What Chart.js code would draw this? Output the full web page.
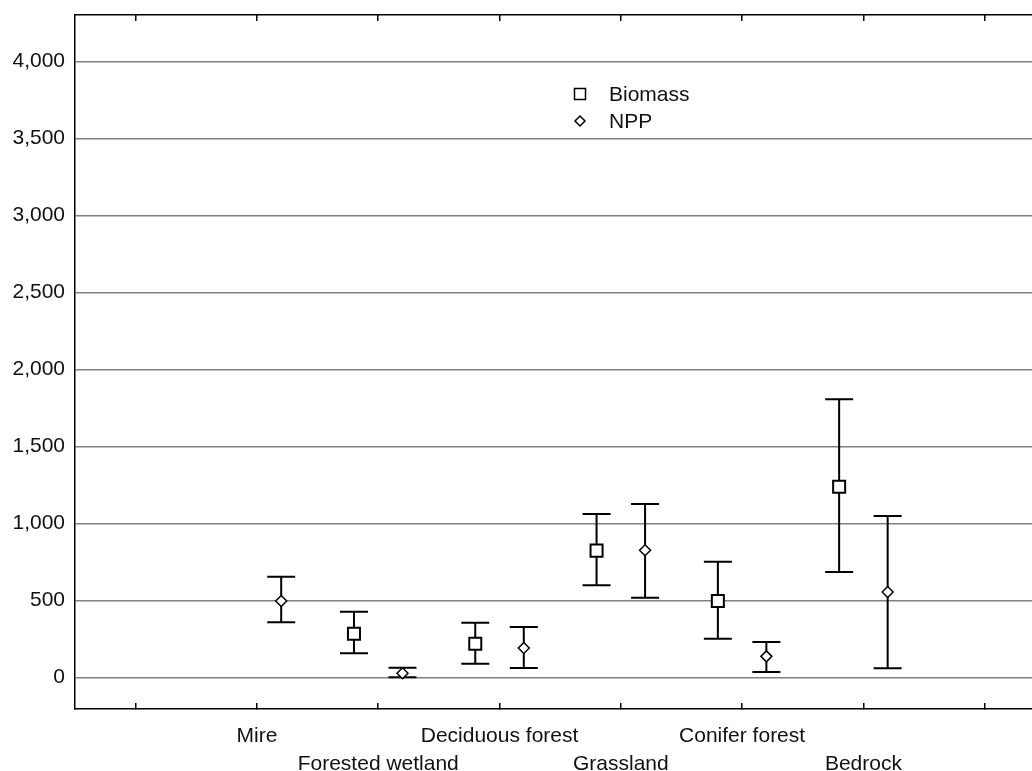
<!DOCTYPE html>
<html>
<head>
<meta charset="utf-8">
<script src="https://cdn.jsdelivr.net/npm/chart.js@4/dist/chart.umd.min.js"></script>
<style>
  html, body { margin: 0; padding: 0; background: #fff; }
  #wrap { width: 1032px; height: 771px; }
</style>
</head>
<body>
<div id="wrap"><canvas id="moneyCanvas"></canvas></div>
<script>
"use strict"

// categories, one per tick (index 1..6)
const categories = ['Mire', 'Forested wetland', 'Deciduous forest', 'Grassland', 'Conifer forest', 'Bedrock'];

// Biomass: mean and error bar ends (Mire has none)
const biomassMean = [null, 283, 218, 823, 496, 1238];
const biomassLow  = [null, 156, 88, 598, 251, 684];
const biomassHigh = [null, 426, 355, 1061, 751, 1806];

// NPP: mean and error bar ends
const nppMean = [496, 26, 190, 825, 136, 554];
const nppLow  = [357, 0, 60, 517, 34, 58];
const nppHigh = [654, 62, 327, 1126, 229, 1048];

// tick values
const yTicks = [0, 500, 1000, 1500, 2000, 2500, 3000, 3500, 4000];
const xTicks = [0, 1, 2, 3, 4, 5, 6, 7];

const FONT = "'Liberation Sans', Arial, Helvetica, sans-serif";
const shift = 0.2;


//Build scatter points for one series
function MakePoints(means, lows, highs, offset) {
    const pts = [];
    for (let i = 0; i < categories.length; i++) {
        if (means[i] == null) continue;
        pts.push({ x: i + 1 + offset, y: means[i], lo: lows[i], hi: highs[i] });
    }
    return pts;
}

//No extra room around the plot
function NoPad(s) {
    s.paddingTop = 0;
    s.paddingBottom = 0;
    s.paddingLeft = 0;
    s.paddingRight = 0;
}


//Error bars, drawn under the markers
const errorBars = {
    id: 'errorBars',
    beforeDatasetsDraw(chart) {
        const ctx = chart.ctx;
        const xs = chart.scales.x;
        const ys = chart.scales.y;
        ctx.save();
        ctx.strokeStyle = '#000';
        ctx.lineWidth = 2;
        chart.data.datasets.forEach(ds => {
            ds.data.forEach(p => {
                const px = xs.getPixelForValue(p.x);
                const yl = ys.getPixelForValue(p.lo);
                const yh = ys.getPixelForValue(p.hi);
                ctx.beginPath();
                ctx.moveTo(px, yl);
                ctx.lineTo(px, yh);
                ctx.moveTo(px - 14, yl);
                ctx.lineTo(px + 14, yl);
                ctx.moveTo(px - 14, yh);
                ctx.lineTo(px + 14, yh);
                ctx.stroke();
            });
        });
        ctx.restore();
    }
};


//Legend inside the plot
const innerLegend = {
    id: 'innerLegend',
    afterDraw(chart) {
        const ctx = chart.ctx;
        const a = chart.chartArea;
        const lx = a.left + 505;
        const ly = a.top + 79;
        ctx.save();
        ctx.strokeStyle = '#000';
        ctx.fillStyle = '#fff';
        ctx.lineWidth = 1.5;
        ctx.beginPath();
        ctx.rect(lx - 5.5, ly - 5.5, 11, 11);
        ctx.fill();
        ctx.stroke();
        ctx.beginPath();
        ctx.moveTo(lx, ly + 27 - 5);
        ctx.lineTo(lx + 5, ly + 27);
        ctx.lineTo(lx, ly + 27 + 5);
        ctx.lineTo(lx - 5, ly + 27);
        ctx.closePath();
        ctx.fill();
        ctx.stroke();
        ctx.fillStyle = '#111';
        ctx.font = '21px ' + FONT;
        ctx.textBaseline = 'middle';
        ctx.fillText('Biomass', lx + 29, ly + 1);
        ctx.fillText('NPP', lx + 29, ly + 28);
        ctx.restore();
    }
};


const config = {
    type: 'scatter',
    data: {
        datasets: [
            {
                label: 'Biomass',
                data: MakePoints(biomassMean, biomassLow, biomassHigh, -shift),
                pointStyle: 'rect',
                pointRadius: 8.5,
                pointHoverRadius: 8.5,
                backgroundColor: '#fff',
                borderColor: '#000',
                borderWidth: 2
            },
            {
                label: 'NPP',
                data: MakePoints(nppMean, nppLow, nppHigh, shift),
                pointStyle: 'rectRot',
                pointRadius: 5.5,
                pointHoverRadius: 5.5,
                backgroundColor: '#fff',
                borderColor: '#000',
                borderWidth: 1.5
            }
        ]
    },
    options: {
        responsive: true,
        maintainAspectRatio: false,
        animation: false,
        layout: { padding: 0, autoPadding: false },
        plugins: {
            legend: { display: false },
            tooltip: { enabled: false }
        },
        scales: {
            x: {
                type: 'linear',
                position: 'bottom',
                min: -0.5,
                max: 7.39,
                afterBuildTicks: s => { s.ticks = xTicks.map(v => ({ value: v })); },
                afterFit: s => { s.height = 62; NoPad(s); },
                grid: { drawOnChartArea: false, tickLength: -6, color: '#000', lineWidth: 1.5 },
                border: { color: '#000', width: 1.5 },
                ticks: {
                    autoSkip: false,
                    maxRotation: 0,
                    minRotation: 0,
                    padding: 20,
                    color: '#111',
                    font: { family: FONT, size: 21, lineHeight: 1.3 },
                    callback: v => {
                        const name = categories[v - 1];
                        if (name == null) return '';
                        return (v % 2 == 1) ? [name] : ['', name];
                    }
                }
            },
            x2: {
                type: 'linear',
                position: 'top',
                min: -0.5,
                max: 7.39,
                afterBuildTicks: s => { s.ticks = xTicks.map(v => ({ value: v })); },
                afterFit: s => { s.height = 15; NoPad(s); },
                grid: { drawOnChartArea: false, tickLength: -6, color: '#000', lineWidth: 1.5 },
                border: { color: '#000', width: 1.5 },
                ticks: { display: false }
            },
            y: {
                min: -206,
                max: 4303,
                afterBuildTicks: s => { s.ticks = yTicks.map(v => ({ value: v })); },
                afterFit: s => { s.width = 75; NoPad(s); },
                grid: { color: '#808080', lineWidth: 1.5, drawTicks: false },
                border: { color: '#000', width: 1.5 },
                ticks: {
                    padding: 10,
                    color: '#111',
                    font: { family: FONT, size: 21 },
                    callback: v => v.toLocaleString('en-US')
                }
            }
        }
    },
    plugins: [errorBars, innerLegend]
};

window.myChart = new Chart(document.getElementById('moneyCanvas'), config);
</script>
</body>
</html>
